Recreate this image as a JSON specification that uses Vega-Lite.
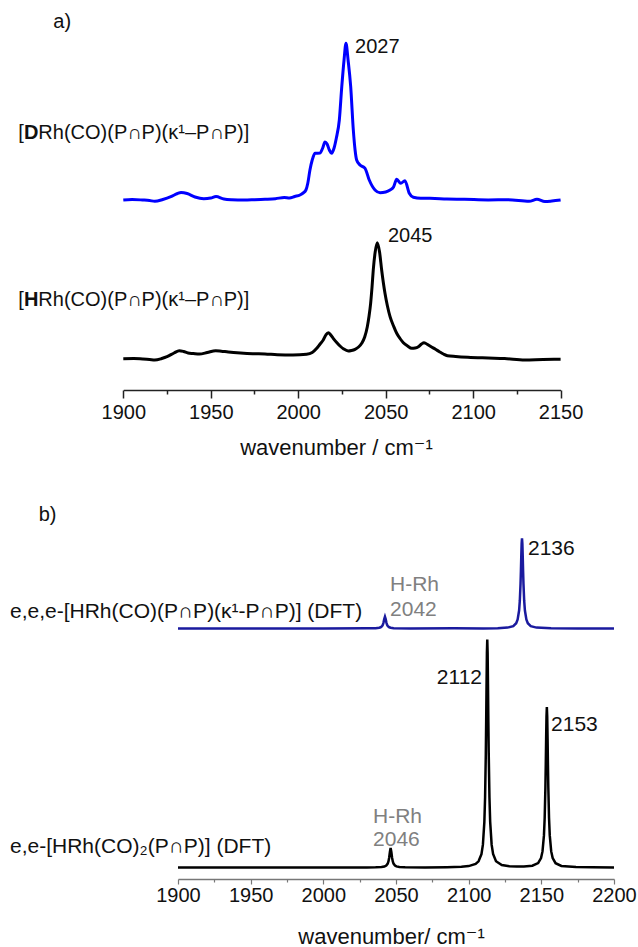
{
  "$schema": "https://vega.github.io/schema/vega-lite/v6.json",
  "width": 638,
  "height": 947,
  "autosize": "none",
  "padding": 0,
  "background": "white",
  "config": {"font": "Liberation Sans, DejaVu Sans", "view": {"stroke": null}, "axis": {"grid": false}},
  "datasets": {
    "expA": [
      {"s":"D","wn":1900,"val":190},{"s":"D","wn":1905,"val":190.5},{"s":"D","wn":1911,"val":190},{"s":"D","wn":1915,"val":189.5},{"s":"D","wn":1918,"val":188.7},{"s":"D","wn":1922.6,"val":190.5},{"s":"D","wn":1927.2,"val":193.3},{"s":"D","wn":1931,"val":196.5},{"s":"D","wn":1933,"val":197.5},{"s":"D","wn":1936.5,"val":196.5},{"s":"D","wn":1941,"val":193},{"s":"D","wn":1946,"val":191.3},{"s":"D","wn":1950,"val":192},{"s":"D","wn":1953,"val":193.5},{"s":"D","wn":1957.5,"val":191},{"s":"D","wn":1962,"val":190.3},{"s":"D","wn":1969,"val":190},{"s":"D","wn":1975,"val":190.3},{"s":"D","wn":1981,"val":190.7},{"s":"D","wn":1987,"val":191.3},{"s":"D","wn":1992,"val":192.5},{"s":"D","wn":1995,"val":192},{"s":"D","wn":1998,"val":193.5},{"s":"D","wn":2001,"val":195},{"s":"D","wn":2002.8,"val":197},{"s":"D","wn":2004.4,"val":200},{"s":"D","wn":2005.5,"val":207},{"s":"D","wn":2006.7,"val":220},{"s":"D","wn":2008,"val":230},{"s":"D","wn":2009.6,"val":236.7},{"s":"D","wn":2012.5,"val":237},{"s":"D","wn":2014,"val":242},{"s":"D","wn":2015.3,"val":248},{"s":"D","wn":2016.5,"val":246},{"s":"D","wn":2017.8,"val":240},{"s":"D","wn":2019.1,"val":236.7},{"s":"D","wn":2020.5,"val":242},{"s":"D","wn":2021.8,"val":252},{"s":"D","wn":2023.5,"val":270},{"s":"D","wn":2024.9,"val":303.3},{"s":"D","wn":2026.2,"val":330},{"s":"D","wn":2027.3,"val":346.7},{"s":"D","wn":2028.5,"val":330},{"s":"D","wn":2030,"val":303.3},{"s":"D","wn":2031.5,"val":260},{"s":"D","wn":2032.5,"val":240},{"s":"D","wn":2033.4,"val":230},{"s":"D","wn":2035.3,"val":225},{"s":"D","wn":2038.2,"val":221.7},{"s":"D","wn":2040.6,"val":210},{"s":"D","wn":2043.9,"val":200},{"s":"D","wn":2046.8,"val":197.3},{"s":"D","wn":2050,"val":198},{"s":"D","wn":2052.5,"val":200},{"s":"D","wn":2054.5,"val":203},{"s":"D","wn":2056.3,"val":210.7},{"s":"D","wn":2058.6,"val":206.7},{"s":"D","wn":2061,"val":209.3},{"s":"D","wn":2063.5,"val":196.7},{"s":"D","wn":2065.8,"val":192.7},{"s":"D","wn":2070,"val":191.7},{"s":"D","wn":2075.3,"val":191.7},{"s":"D","wn":2085,"val":191},{"s":"D","wn":2095,"val":190.7},{"s":"D","wn":2108.6,"val":190},{"s":"D","wn":2120,"val":190.3},{"s":"D","wn":2132,"val":188.7},{"s":"D","wn":2136.5,"val":190.7},{"s":"D","wn":2141,"val":188.5},{"s":"D","wn":2145,"val":189},{"s":"D","wn":2150,"val":190},
      {"s":"H","wn":1900,"val":31.3},{"s":"H","wn":1906,"val":31.5},{"s":"H","wn":1911,"val":31},{"s":"H","wn":1915,"val":30.5},{"s":"H","wn":1918,"val":30},{"s":"H","wn":1922,"val":31.5},{"s":"H","wn":1925,"val":33.3},{"s":"H","wn":1929,"val":37},{"s":"H","wn":1932,"val":39.3},{"s":"H","wn":1934.5,"val":38.5},{"s":"H","wn":1937,"val":37},{"s":"H","wn":1940,"val":36.5},{"s":"H","wn":1943.5,"val":36},{"s":"H","wn":1948,"val":37.5},{"s":"H","wn":1952.8,"val":39.3},{"s":"H","wn":1956,"val":38.8},{"s":"H","wn":1960,"val":38},{"s":"H","wn":1967,"val":37},{"s":"H","wn":1974,"val":36.3},{"s":"H","wn":1981,"val":36},{"s":"H","wn":1988,"val":35.3},{"s":"H","wn":1997,"val":35},{"s":"H","wn":2004.8,"val":35.7},{"s":"H","wn":2008,"val":37.5},{"s":"H","wn":2010.6,"val":41.7},{"s":"H","wn":2012.5,"val":46},{"s":"H","wn":2014.3,"val":50},{"s":"H","wn":2015.8,"val":55},{"s":"H","wn":2017.2,"val":57.3},{"s":"H","wn":2018.6,"val":55},{"s":"H","wn":2020,"val":51.7},{"s":"H","wn":2022,"val":47.5},{"s":"H","wn":2023.9,"val":44},{"s":"H","wn":2026,"val":41},{"s":"H","wn":2028.6,"val":39},{"s":"H","wn":2030.5,"val":39.5},{"s":"H","wn":2032.5,"val":40.7},{"s":"H","wn":2034.5,"val":43},{"s":"H","wn":2036.3,"val":46.7},{"s":"H","wn":2038,"val":53},{"s":"H","wn":2039.5,"val":63.3},{"s":"H","wn":2040.5,"val":74},{"s":"H","wn":2041.4,"val":86.7},{"s":"H","wn":2042.2,"val":103},{"s":"H","wn":2042.9,"val":120},{"s":"H","wn":2044,"val":138},{"s":"H","wn":2045.2,"val":147.3},{"s":"H","wn":2046.5,"val":138},{"s":"H","wn":2047.7,"val":120},{"s":"H","wn":2049.6,"val":96.7},{"s":"H","wn":2051,"val":84},{"s":"H","wn":2052.5,"val":73.3},{"s":"H","wn":2054.5,"val":64},{"s":"H","wn":2056.3,"val":56.7},{"s":"H","wn":2058.2,"val":51.5},{"s":"H","wn":2060.1,"val":47.3},{"s":"H","wn":2062.5,"val":44},{"s":"H","wn":2064.9,"val":41.7},{"s":"H","wn":2066.8,"val":42},{"s":"H","wn":2068.7,"val":43.3},{"s":"H","wn":2070.5,"val":46},{"s":"H","wn":2071.9,"val":47.3},{"s":"H","wn":2073,"val":46.5},{"s":"H","wn":2074.4,"val":45},{"s":"H","wn":2076,"val":43.3},{"s":"H","wn":2078.5,"val":40.7},{"s":"H","wn":2080.7,"val":38.3},{"s":"H","wn":2083,"val":36},{"s":"H","wn":2085.3,"val":34.3},{"s":"H","wn":2090,"val":33.5},{"s":"H","wn":2097,"val":32.7},{"s":"H","wn":2108.6,"val":32},{"s":"H","wn":2118,"val":31.5},{"s":"H","wn":2129.5,"val":30},{"s":"H","wn":2140,"val":30.5},{"s":"H","wn":2150,"val":30.7}
    ],
    "dftB": [
      {"s":"eee","wn":1900,"val":250.5},{"s":"eee","wn":1950,"val":250.5},{"s":"eee","wn":2000,"val":250.6},{"s":"eee","wn":2030,"val":250.7},{"s":"eee","wn":2036,"val":250.8},{"s":"eee","wn":2038.4,"val":251.2},{"s":"eee","wn":2039.4,"val":251.7},{"s":"eee","wn":2040.4,"val":252.9},{"s":"eee","wn":2040.9,"val":254.1},{"s":"eee","wn":2041.4,"val":256.4},{"s":"eee","wn":2041.9,"val":260},{"s":"eee","wn":2042.4,"val":262.3},{"s":"eee","wn":2042.9,"val":260},{"s":"eee","wn":2043.4,"val":256.4},{"s":"eee","wn":2043.9,"val":254.1},{"s":"eee","wn":2044.4,"val":252.9},{"s":"eee","wn":2045.4,"val":251.7},{"s":"eee","wn":2046.4,"val":251.2},{"s":"eee","wn":2048.4,"val":250.8},{"s":"eee","wn":2060,"val":250.6},{"s":"eee","wn":2090,"val":250.7},{"s":"eee","wn":2110,"val":250.6},{"s":"eee","wn":2120,"val":250.8},{"s":"eee","wn":2126.7,"val":251.4},{"s":"eee","wn":2130.7,"val":252.9},{"s":"eee","wn":2132.7,"val":255.8},{"s":"eee","wn":2133.7,"val":259.5},{"s":"eee","wn":2134.7,"val":268.5},{"s":"eee","wn":2135.2,"val":278.3},{"s":"eee","wn":2135.7,"val":295.6},{"s":"eee","wn":2135.95,"val":308.2},{"s":"eee","wn":2136.2,"val":322.7},{"s":"eee","wn":2136.45,"val":335.4},{"s":"eee","wn":2136.7,"val":340.7},{"s":"eee","wn":2136.95,"val":335.4},{"s":"eee","wn":2137.2,"val":322.7},{"s":"eee","wn":2137.45,"val":308.2},{"s":"eee","wn":2137.7,"val":295.6},{"s":"eee","wn":2138.2,"val":278.3},{"s":"eee","wn":2138.7,"val":268.5},{"s":"eee","wn":2139.7,"val":259.5},{"s":"eee","wn":2140.7,"val":255.8},{"s":"eee","wn":2142.7,"val":252.9},{"s":"eee","wn":2146.7,"val":251.4},{"s":"eee","wn":2156.7,"val":250.8},{"s":"eee","wn":2175,"val":250.6},{"s":"eee","wn":2200,"val":250.5},
      {"s":"ee","wn":1900,"val":11.5},{"s":"ee","wn":1950,"val":11.5},{"s":"ee","wn":2000,"val":11.6},{"s":"ee","wn":2030,"val":11.6},{"s":"ee","wn":2036,"val":11.7},{"s":"ee","wn":2040,"val":12},{"s":"ee","wn":2042,"val":12.4},{"s":"ee","wn":2043.3,"val":13.4},{"s":"ee","wn":2044.3,"val":15.4},{"s":"ee","wn":2044.8,"val":17.5},{"s":"ee","wn":2045.3,"val":21.3},{"s":"ee","wn":2045.8,"val":27.1},{"s":"ee","wn":2046.3,"val":31},{"s":"ee","wn":2046.8,"val":27.1},{"s":"ee","wn":2047.3,"val":21.3},{"s":"ee","wn":2047.8,"val":17.5},{"s":"ee","wn":2048.3,"val":15.4},{"s":"ee","wn":2049.3,"val":13.5},{"s":"ee","wn":2050.3,"val":12.6},{"s":"ee","wn":2052.3,"val":12},{"s":"ee","wn":2056.3,"val":11.7},{"s":"ee","wn":2070,"val":11.6},{"s":"ee","wn":2085,"val":11.8},{"s":"ee","wn":2095,"val":12.2},{"s":"ee","wn":2100,"val":12.9},{"s":"ee","wn":2104.8,"val":15},{"s":"ee","wn":2106.8,"val":17.7},{"s":"ee","wn":2108.8,"val":24.9},{"s":"ee","wn":2109.8,"val":34.3},{"s":"ee","wn":2110.8,"val":57.1},{"s":"ee","wn":2111.3,"val":81.7},{"s":"ee","wn":2111.8,"val":125.5},{"s":"ee","wn":2112.05,"val":157.4},{"s":"ee","wn":2112.3,"val":194},{"s":"ee","wn":2112.55,"val":226},{"s":"ee","wn":2112.8,"val":239.5},{"s":"ee","wn":2113.05,"val":226},{"s":"ee","wn":2113.3,"val":194},{"s":"ee","wn":2113.55,"val":157.4},{"s":"ee","wn":2113.8,"val":125.5},{"s":"ee","wn":2114.3,"val":81.7},{"s":"ee","wn":2114.8,"val":57.1},{"s":"ee","wn":2115.8,"val":34.3},{"s":"ee","wn":2116.8,"val":25},{"s":"ee","wn":2118.8,"val":17.8},{"s":"ee","wn":2122.8,"val":14},{"s":"ee","wn":2128,"val":12.7},{"s":"ee","wn":2133,"val":12.4},{"s":"ee","wn":2138,"val":12.5},{"s":"ee","wn":2143.8,"val":13.3},{"s":"ee","wn":2147.8,"val":15.9},{"s":"ee","wn":2149.8,"val":21},{"s":"ee","wn":2150.8,"val":27.6},{"s":"ee","wn":2151.8,"val":43.6},{"s":"ee","wn":2152.3,"val":61},{"s":"ee","wn":2152.8,"val":91.8},{"s":"ee","wn":2153.05,"val":114.2},{"s":"ee","wn":2153.3,"val":140},{"s":"ee","wn":2153.55,"val":162.5},{"s":"ee","wn":2153.8,"val":172},{"s":"ee","wn":2154.05,"val":162.5},{"s":"ee","wn":2154.3,"val":140},{"s":"ee","wn":2154.55,"val":114.2},{"s":"ee","wn":2154.8,"val":91.8},{"s":"ee","wn":2155.3,"val":61},{"s":"ee","wn":2155.8,"val":43.6},{"s":"ee","wn":2156.8,"val":27.6},{"s":"ee","wn":2157.8,"val":21},{"s":"ee","wn":2159.8,"val":15.8},{"s":"ee","wn":2163.8,"val":13.1},{"s":"ee","wn":2173.8,"val":11.9},{"s":"ee","wn":2185,"val":11.7},{"s":"ee","wn":2200,"val":11.6}
    ]
  },
  "layer": [
    {
      "resolve": {"axis": {"x": "independent", "y": "independent"}},
      "layer": [
        {
          "data": {"name": "expA"},
          "mark": {"type": "line", "strokeWidth": 3, "interpolate": "monotone"},
          "encoding": {
            "x": {"field": "wn", "type": "quantitative",
              "scale": {"domain": [1900, 2150], "range": [123.3, 560.6], "nice": false, "zero": false},
              "axis": {"values": [1900, 1950, 2000, 2050, 2100, 2150], "format": "d", "orient": "bottom", "offset": -557,
                "title": "wavenumber / cm⁻¹", "titleFontSize": 22, "titleFontWeight": "normal", "titleColor": "#111111",
                "titleX": 336, "titleY": 64, "titleBaseline": "alphabetic",
                "labelFontSize": 20, "labelColor": "#111111", "labelFlush": false, "labelOverlap": false, "labelPadding": 4,
                "tickSize": 8, "tickWidth": 1.5, "tickColor": "#222222", "domainWidth": 1.5, "domainColor": "#222222"}},
            "y": {"field": "val", "type": "quantitative",
              "scale": {"domain": [0, 360], "range": [390, 30], "nice": false, "zero": false}, "axis": null},
            "color": {"field": "s", "type": "nominal", "scale": {"domain": ["D", "H"], "range": ["#0000ff", "#000000"]}, "legend": null}
          }
        },
        {
          "data": {"values": [{}]},
          "mark": {"type": "text", "text": "2027", "align": "left", "baseline": "middle", "fontSize": 20, "color": "#111111"},
          "encoding": {
            "x": {"datum": 2032.5, "type": "quantitative",
              "axis": {"values": [1925, 1975, 2025, 2075, 2125], "orient": "bottom", "offset": -557, "labels": false, "title": null, "domain": false,
                "tickSize": 4, "tickWidth": 1.5, "tickColor": "#222222"}},
            "y": {"datum": 343.3, "type": "quantitative", "axis": null}
          }
        },
        {
          "data": {"values": [{}]},
          "mark": {"type": "text", "text": "2045", "align": "left", "baseline": "middle", "fontSize": 20, "color": "#111111"},
          "encoding": {"x": {"datum": 2051.3, "type": "quantitative", "axis": null}, "y": {"datum": 154, "type": "quantitative", "axis": null}}
        },
        {
          "data": {"values": [{}]},
          "mark": {"type": "text", "text": "a)", "align": "left", "baseline": "middle", "fontSize": 20, "color": "#111111"},
          "encoding": {"x": {"datum": 1860, "type": "quantitative", "axis": null}, "y": {"datum": 368.3, "type": "quantitative", "axis": null}}
        },
        {
          "data": {"values": [{}]},
          "mark": {"type": "text", "text": "[", "align": "left", "baseline": "middle", "fontSize": 20, "color": "#111111"},
          "encoding": {"x": {"datum": 1840, "type": "quantitative", "axis": null}, "y": {"datum": 256.7, "type": "quantitative", "axis": null}}
        },
        {
          "data": {"values": [{}]},
          "mark": {"type": "text", "text": "D", "align": "left", "baseline": "middle", "fontSize": 20, "fontWeight": "bold", "dx": 5.6, "color": "#111111"},
          "encoding": {"x": {"datum": 1840, "type": "quantitative", "axis": null}, "y": {"datum": 256.7, "type": "quantitative", "axis": null}}
        },
        {
          "data": {"values": [{}]},
          "mark": {"type": "text", "text": "Rh(CO)(P∩P)(κ¹–P∩P)]", "align": "left", "baseline": "middle", "fontSize": 20, "dx": 20, "color": "#111111"},
          "encoding": {"x": {"datum": 1840, "type": "quantitative", "axis": null}, "y": {"datum": 256.7, "type": "quantitative", "axis": null}}
        },
        {
          "data": {"values": [{}]},
          "mark": {"type": "text", "text": "[", "align": "left", "baseline": "middle", "fontSize": 20, "color": "#111111"},
          "encoding": {"x": {"datum": 1840, "type": "quantitative", "axis": null}, "y": {"datum": 90, "type": "quantitative", "axis": null}}
        },
        {
          "data": {"values": [{}]},
          "mark": {"type": "text", "text": "H", "align": "left", "baseline": "middle", "fontSize": 20, "fontWeight": "bold", "dx": 5.6, "color": "#111111"},
          "encoding": {"x": {"datum": 1840, "type": "quantitative", "axis": null}, "y": {"datum": 90, "type": "quantitative", "axis": null}}
        },
        {
          "data": {"values": [{}]},
          "mark": {"type": "text", "text": "Rh(CO)(P∩P)(κ¹–P∩P)]", "align": "left", "baseline": "middle", "fontSize": 20, "dx": 20, "color": "#111111"},
          "encoding": {"x": {"datum": 1840, "type": "quantitative", "axis": null}, "y": {"datum": 90, "type": "quantitative", "axis": null}}
        }
      ]
    },
    {
      "resolve": {"axis": {"x": "independent", "y": "independent"}},
      "layer": [
        {
          "data": {"name": "dftB"},
          "mark": {"type": "line", "strokeWidth": 2.5},
          "encoding": {
            "x": {"field": "wn", "type": "quantitative",
              "scale": {"domain": [1900, 2200], "range": [178, 614], "nice": false, "zero": false},
              "axis": {"values": [1900, 1950, 2000, 2050, 2100, 2150, 2200], "format": "d", "orient": "bottom", "offset": -68,
                "title": "wavenumber/ cm⁻¹", "titleFontSize": 22, "titleFontWeight": "normal", "titleColor": "#111111",
                "titleX": 391, "titleY": 64, "titleBaseline": "alphabetic",
                "labelFontSize": 20, "labelColor": "#111111", "labelFlush": false, "labelOverlap": false, "labelPadding": 1.5,
                "tickSize": 5, "tickWidth": 1.2, "tickColor": "#777777", "domainWidth": 1.5, "domainColor": "#777777"}},
            "y": {"field": "val", "type": "quantitative",
              "scale": {"domain": [0, 360], "range": [879, 519], "nice": false, "zero": false}, "axis": null},
            "color": {"field": "s", "type": "nominal", "scale": {"domain": ["eee", "ee"], "range": ["#1a1a9e", "#000000"]}, "legend": null}
          }
        },
        {
          "data": {"values": [{}]},
          "mark": {"type": "text", "text": "2136", "align": "left", "baseline": "middle", "fontSize": 21, "color": "#111111"},
          "encoding": {
            "x": {"datum": 2140.8, "type": "quantitative",
              "axis": {"values": [1925, 1975, 2025, 2075, 2125, 2175], "orient": "bottom", "offset": -68, "labels": false, "title": null, "domain": false,
                "tickSize": 3, "tickWidth": 1.2, "tickColor": "#777777"}},
            "y": {"datum": 329.7, "type": "quantitative", "axis": null}
          }
        },
        {
          "data": {"values": [{}]},
          "mark": {"type": "text", "text": "2112", "align": "right", "baseline": "middle", "fontSize": 21, "color": "#111111"},
          "encoding": {"x": {"datum": 2109.2, "type": "quantitative", "axis": null}, "y": {"datum": 201, "type": "quantitative", "axis": null}}
        },
        {
          "data": {"values": [{}]},
          "mark": {"type": "text", "text": "2153", "align": "left", "baseline": "middle", "fontSize": 21, "color": "#111111"},
          "encoding": {"x": {"datum": 2156.7, "type": "quantitative", "axis": null}, "y": {"datum": 154, "type": "quantitative", "axis": null}}
        },
        {
          "data": {"values": [{}]},
          "mark": {"type": "text", "text": "H-Rh", "align": "left", "baseline": "middle", "fontSize": 21, "color": "#808080"},
          "encoding": {"x": {"datum": 2045.9, "type": "quantitative", "axis": null}, "y": {"datum": 294, "type": "quantitative", "axis": null}}
        },
        {
          "data": {"values": [{}]},
          "mark": {"type": "text", "text": "2042", "align": "left", "baseline": "middle", "fontSize": 21, "color": "#808080"},
          "encoding": {"x": {"datum": 2045.9, "type": "quantitative", "axis": null}, "y": {"datum": 269, "type": "quantitative", "axis": null}}
        },
        {
          "data": {"values": [{}]},
          "mark": {"type": "text", "text": "H-Rh", "align": "left", "baseline": "middle", "fontSize": 21, "color": "#808080"},
          "encoding": {"x": {"datum": 2034.2, "type": "quantitative", "axis": null}, "y": {"datum": 62, "type": "quantitative", "axis": null}}
        },
        {
          "data": {"values": [{}]},
          "mark": {"type": "text", "text": "2046", "align": "left", "baseline": "middle", "fontSize": 21, "color": "#808080"},
          "encoding": {"x": {"datum": 2034.2, "type": "quantitative", "axis": null}, "y": {"datum": 39, "type": "quantitative", "axis": null}}
        },
        {
          "data": {"values": [{}]},
          "mark": {"type": "text", "text": "e,e,e-[HRh(CO)(P∩P)(κ¹-P∩P)] (DFT)", "align": "left", "baseline": "middle", "fontSize": 21, "color": "#111111"},
          "encoding": {"x": {"datum": 1784.4, "type": "quantitative", "axis": null}, "y": {"datum": 267, "type": "quantitative", "axis": null}}
        },
        {
          "data": {"values": [{}]},
          "mark": {"type": "text", "text": "e,e-[HRh(CO)₂(P∩P)] (DFT)", "align": "left", "baseline": "middle", "fontSize": 21, "color": "#111111"},
          "encoding": {"x": {"datum": 1784.4, "type": "quantitative", "axis": null}, "y": {"datum": 32, "type": "quantitative", "axis": null}}
        },
        {
          "data": {"values": [{}]},
          "mark": {"type": "text", "text": "b)", "align": "left", "baseline": "middle", "fontSize": 20, "color": "#111111"},
          "encoding": {"x": {"datum": 1804.1, "type": "quantitative", "axis": null}, "y": {"datum": 364, "type": "quantitative", "axis": null}}
        }
      ]
    }
  ],
  "resolve": {"scale": {"x": "independent", "y": "independent", "color": "independent"}}
}
